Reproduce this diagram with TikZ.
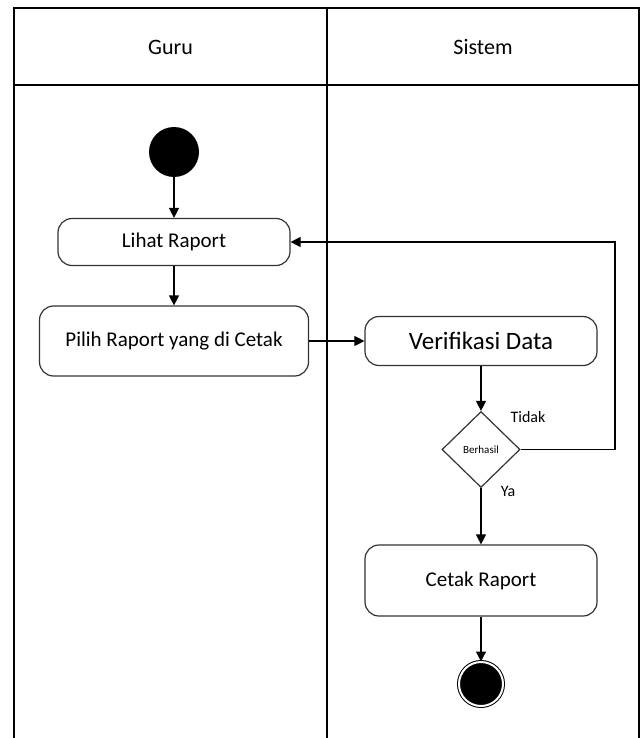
\documentclass[tikz,border=0pt]{standalone}
\usepackage{fontspec}
\setmainfont{Carlito}
\usetikzlibrary{shapes.geometric,arrows.meta}

\begin{document}
\begin{tikzpicture}
  [x=1pt,y=-1pt,
   act/.style={draw=black!80,line width=1.2pt,rounded corners=14pt,minimum width=232pt,inner sep=0pt,font=\fontsize{21}{24}\selectfont},
   flow/.style={-{Triangle[length=10pt,width=10pt]},line width=1.2pt},
   lane/.style={line width=1.4pt},
   lbl/.style={font=\fontsize{16}{18}\selectfont}]
  \useasboundingbox (0,0) rectangle (644,738);
  % swimlanes
  \draw[lane] (14,738) -- (14,8) -- (639,8) -- (639,738);
  \draw[lane] (14,85) -- (639,85);
  \draw[lane] (327,8) -- (327,738);
  \node[font=\fontsize{22}{26}\selectfont] (guru) at (170.5,47) {Guru};
  \node[font=\fontsize{22}{26}\selectfont] (sistem) at (483,47) {Sistem};
  % activities
  \node[circle,fill=black,minimum size=50pt,inner sep=0pt] (start) at (174,152) {};
  \node[act,minimum height=47pt] (lihat) at (174,242) {Lihat Raport};
  \node[act,minimum width=269pt,minimum height=70pt] (pilih) at (174,341) {Pilih Raport yang di Cetak};
  \node[act,minimum height=49pt,font=\fontsize{25}{28}\selectfont] (verif) at (481,341) {Verifikasi Data};
  \node[diamond,draw=black!80,line width=1.2pt,minimum width=78pt,minimum height=76pt,inner sep=0pt,font=\fontsize{11}{12}\selectfont] (cek) at (481,449.5) {Berhasil};
  \node[act,minimum height=71pt] (cetak) at (481,580.5) {Cetak Raport};
  \node[circle,fill=black,draw=black,line width=1pt,double=white,double distance=2pt,minimum size=44pt,inner sep=0pt] (stop) at (481,684) {};
  \coordinate (balik) at (615,449.5);
  \foreach \from/\to in {start/lihat,lihat/pilih,pilih/verif,verif/cek,cek/cetak,cetak/stop}
    \draw[flow] (\from) -- (\to);
  \draw[flow] (cek.east) -- (balik) |- (lihat.east);
  \node[lbl] (tidak) at (528,417) {Tidak};
  \node[lbl] (ya) at (508,491) {Ya};
\end{tikzpicture}
\end{document}
